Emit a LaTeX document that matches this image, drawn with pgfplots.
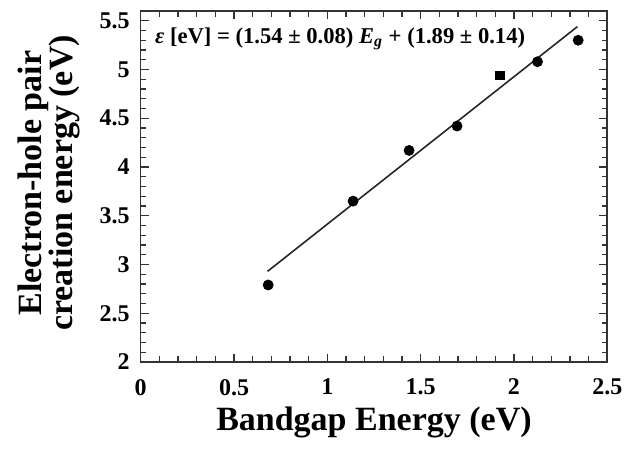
\documentclass[border=0pt]{standalone}
\usepackage{fontspec}
\setmainfont{Liberation Serif}
\usepackage{pgfplots}
\pgfplotsset{compat=1.18}
\begin{document}
\begin{tikzpicture}
\path[use as bounding box] (-70.35pt,-44pt) rectangle (244.15pt,181pt);
\begin{axis}[
  at={(0,0)}, anchor=south west,
  scale only axis, width=233.3pt, height=175.5pt,
  xmin=0, xmax=2.5, ymin=2, ymax=5.6,
  xtick={0,0.5,...,2.5}, ytick={2,2.5,...,5.5},
  minor x tick num=4, minor y tick num=4,
  tick align=inside, xtick pos=both, ytick pos=both,
  major tick length=4pt, minor tick length=2.8pt,
  axis line style={line width=0.8pt, black!80},
  every tick/.style={line width=0.7pt, black!80},
  /pgf/number format/assume math mode=true,
  tick label style={font=\fontsize{12}{12}\selectfont\bfseries},
  xticklabel style={yshift=-5pt},
  yticklabel style={xshift=-2pt},
  xlabel={Bandgap Energy (eV)},
  xlabel style={font=\fontsize{17}{17}\selectfont\bfseries, at={(axis description cs:0.5,-0.194)}, anchor=base},
  ylabel={Electron-hole pair\\creation energy (eV)},
  ylabel style={font=\fontsize{17}{15.5}\selectfont\bfseries, align=center, at={(axis description cs:-0.197,0.51)}, anchor=center},
  clip=false,
]
\addplot[black!85, line width=0.8pt] coordinates {(0.68,2.93) (2.34,5.44)};
\addplot[only marks, mark=*, mark size=2.5pt, black] coordinates {
(0.683,2.79) (1.138,3.65) (1.438,4.17) (1.695,4.42) (2.126,5.08) (2.344,5.30)};
\addplot[only marks, mark=square*, mark size=2.1pt, black] coordinates {(1.924,4.94)};
\node[anchor=base west, inner sep=0pt, font=\fontsize{11.3}{12}\selectfont\bfseries] at (axis cs:0.075,5.27)
  {\textit{ε} [eV] = (1.54 ± 0.08) \textit{E}\textsubscript{\textit{g}} + (1.89 ± 0.14)};
\end{axis}
\end{tikzpicture}
\end{document}
